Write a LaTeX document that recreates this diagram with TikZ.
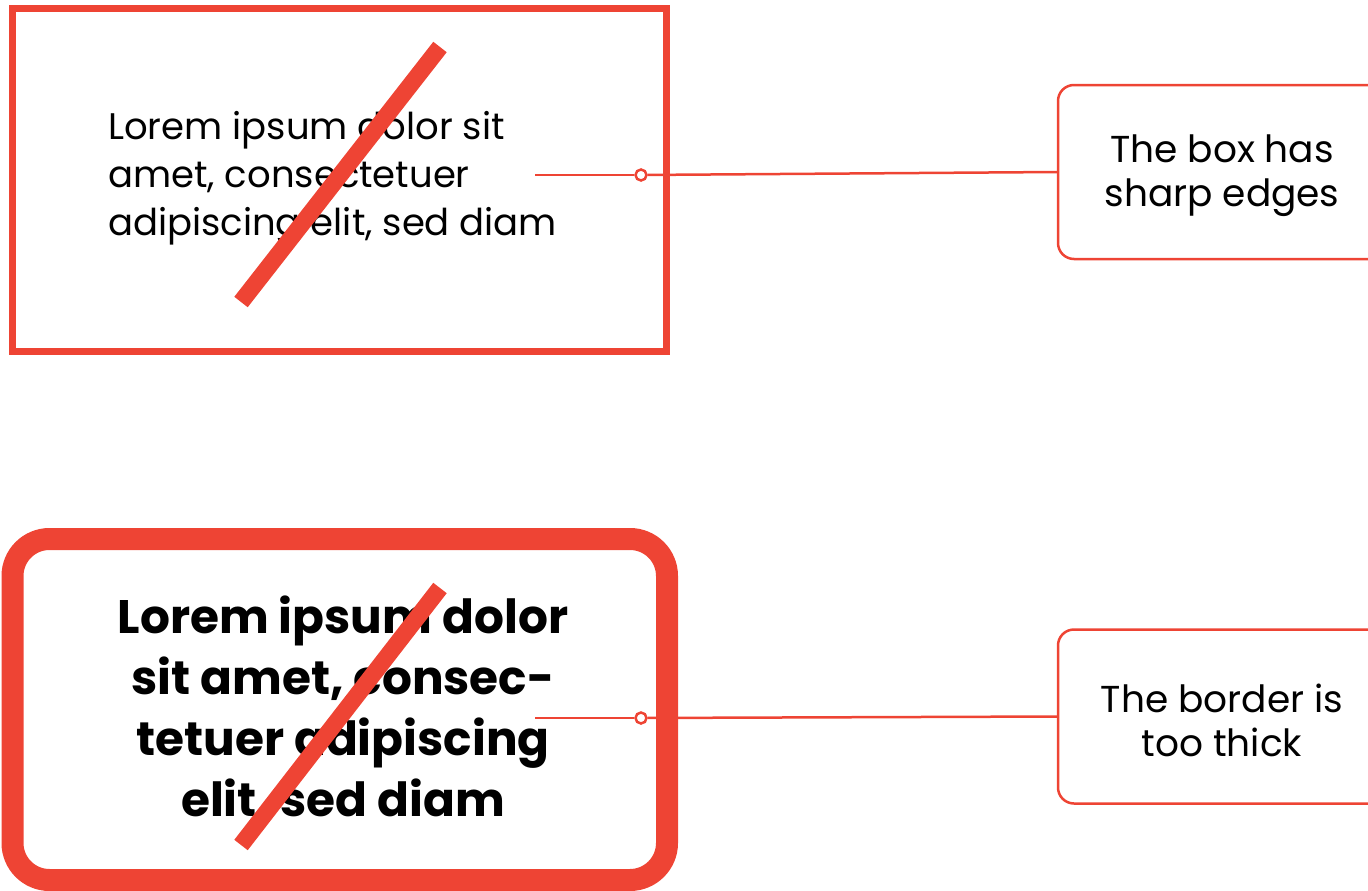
\documentclass[tikz,border=0pt]{standalone}
\usepackage{fontspec}
\setmainfont{Poppins}
\definecolor{warnred}{RGB}{238,68,52}
\begin{document}
\begin{tikzpicture}[x=1pt,y=-1pt,
  badbox/.style={draw=warnred, inner sep=0pt, outer sep=0pt, anchor=north west},
  notebox/.style={draw=warnred, line width=2.5pt, rounded corners=16pt, minimum width=328pt, minimum height=174pt, anchor=west, outer sep=0pt, inner sep=0pt},
  notetext/.style={align=center, inner sep=0pt, yshift=-4pt, font=\fontsize{37.5}{44}\selectfont},
  conn/.style={draw=warnred, line width=2.5pt},
  dotnode/.style={circle, draw=warnred, line width=2.5pt, fill=white, minimum size=11pt, inner sep=0pt},
  slash/.style={draw=warnred, line width=17pt}]
\useasboundingbox (0,0) rectangle (1368,891);
\clip (0,0) rectangle (1368,891);
% top example
\node[badbox, line width=7pt, minimum width=654pt, minimum height=343pt] (boxA) at (12.5,8.5) {};
\node[anchor=north west, align=left, inner sep=0pt, font=\fontsize{37}{48}\selectfont] (txtA) at (108,111) {Lorem ipsum dolor sit\\amet, consectetuer\\adipiscing elit, sed diam};
\coordinate (slashA1) at (241,302);
\coordinate (slashA2) at (440,47);
\draw[slash] (slashA1) -- (slashA2);
\node[notebox] (noteA) at (1058,172) {};
\node[notetext] (noteAtext) at (noteA.center) {The box has\\sharp edges};
\coordinate (startA) at (535,175);
\node[dotnode] (dotA) at (641,175) {};
\draw[conn] (startA) -- (dotA);
\draw[conn] (dotA) -- (noteA.west);
% bottom example
\node[badbox, line width=22pt, rounded corners=37pt, minimum width=654.5pt, minimum height=341pt] (boxC) at (12.5,539) {};
\node[anchor=north, align=center, inner sep=0pt, font=\fontsize{47}{61}\selectfont\bfseries] (txtC) at (343,596) {Lorem ipsum dolor\\sit amet, consec-\\tetuer adipiscing\\elit, sed diam};
\coordinate (slashC1) at (241,845);
\coordinate (slashC2) at (440,588);
\draw[slash] (slashC1) -- (slashC2);
\node[notebox] (noteC) at (1058,716.5) {};
\node[notetext] (noteCtext) at (noteC.center) {The border is\\too thick};
\coordinate (startC) at (535,718);
\node[dotnode] (dotC) at (641,718) {};
\draw[conn] (startC) -- (dotC);
\draw[conn] (dotC) -- (noteC.west);
\end{tikzpicture}
\end{document}
